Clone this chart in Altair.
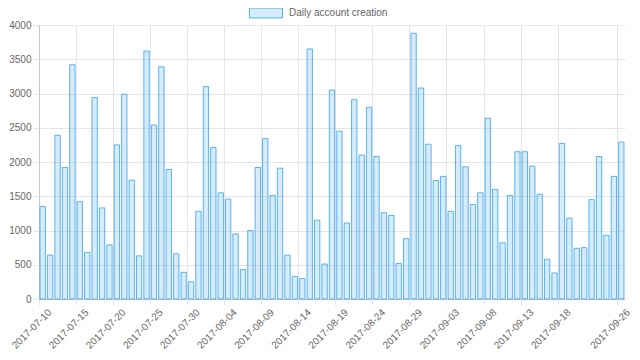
import altair as alt
import pandas as pd

dates = [d.strftime("%Y-%m-%d") for d in pd.date_range("2017-07-10", "2017-09-26")]
accounts = [
    1350, 640, 2390, 1920, 3420, 1420, 680, 2940, 1330, 790,
    2250, 2990, 1735, 630, 3620, 2540, 3390, 1890, 660, 390,
    250, 1280, 3100, 2210, 1550, 1460, 950, 430, 1000, 1920,
    2340, 1510, 1910, 640, 330, 300, 3650, 1150, 510, 3050,
    2450, 1110, 2910, 2100, 2800, 2080, 1260, 1220, 520, 880,
    3880, 3080, 2260, 1730, 1790, 1280, 2240, 1930, 1380, 1550,
    2640, 1600, 820, 1510, 2150, 2150, 1940, 1530, 580, 380,
    2270, 1180, 740, 750, 1450, 2080, 930, 1790, 2290,
]
series_name = "Daily account creation"
x_tick_labels = dates[0:71:5] + [dates[-1]]
y_ticks = list(range(0, 4001, 500))

df = pd.DataFrame({"date": dates, "accounts": accounts,
                   "series": [series_name] * len(dates)})

LEFT = 31
W, H = 586, 274
step = W / len(dates)
FONT = "Liberation Sans"
GRID = "#e6e6e6"
AXIS = "#c8c8c8"
TEXT = "#666666"
STROKE = "rgba(54,162,235,0.8)"

chart = alt.Chart(df).mark_bar(
    width=alt.RelativeBandSize(0.72), stroke=STROKE, strokeWidth=1
).encode(
    x=alt.X("date:N", sort=None,
            scale=alt.Scale(paddingInner=0, paddingOuter=0),
            axis=alt.Axis(values=x_tick_labels, bandPosition=0,
                          labelOffset=step / 2, labelAngle=-45,
                          labelAlign="right", labelBaseline="top",
                          labelPadding=2, tickSize=6, title=None,
                          grid=True, gridColor=GRID, tickColor=GRID,
                          domainColor=AXIS, labelColor=TEXT,
                          labelFont=FONT, labelFontSize=10)),
    y=alt.Y("accounts:Q", scale=alt.Scale(domain=[0, 4000], nice=False),
            axis=alt.Axis(values=y_ticks, format="d", title=None, tickSize=6,
                          labelPadding=2, grid=True, gridColor=GRID,
                          tickColor=GRID, domainColor=AXIS,
                          labelColor=TEXT, labelFont=FONT,
                          labelFontSize=10)),
    fill=alt.Fill("series:N",
                  scale=alt.Scale(range=["rgba(54,162,235,0.2)"]),
                  legend=alt.Legend(orient="none", legendX=249 - 8 - LEFT,
                                    legendY=-29,
                                    title=None, padding=0,
                                    symbolType="M-1,-0.3H1V0.3H-1Z",
                                    symbolSize=1089,
                                    symbolStrokeColor=STROKE,
                                    symbolStrokeWidth=1,
                                    symbolOffset=0,
                                    labelFont=FONT, labelFontSize=10,
                                    labelColor=TEXT, labelOffset=6)),
).properties(
    width=W, height=H,
    autosize=alt.AutoSizeParams(type="none"),
    padding={"left": LEFT, "top": 17, "right": 624 - LEFT - W, "bottom": 53},
).configure_view(stroke=None)

chart.save("out.html", embed_options={"renderer": "svg", "actions": False})
